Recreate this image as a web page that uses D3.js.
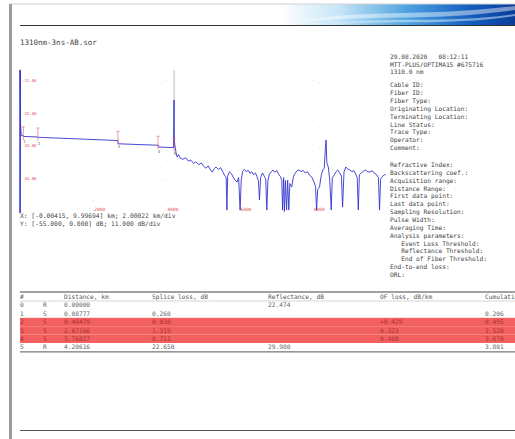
<!DOCTYPE html>
<html>
<head>
<meta charset="utf-8">
<script src="https://cdn.jsdelivr.net/npm/d3@7"></script>
<style>
  body { margin: 0; background: #fff; }
  svg { display: block; }
  text { font-family: "DejaVu Sans Mono", monospace; }
</style>
</head>
<body>
<svg id="page"></svg>
<script>
const W = 515, H = 439

// trace (km, dB)
const traceKm = [-0.004, 0.0, 0.01, 0.03, 0.088, 0.09, 0.485, 0.49, 1.5, 2.67, 2.68, 3.77, 3.78, 4.19, 4.20, 4.205, 4.21,
  4.235, 4.26, 4.29, 4.33, 4.37, 4.45, 4.52, 4.60, 4.66, 4.74, 4.80, 4.88, 4.95, 5.02, 5.08, 5.14, 5.20, 5.25, 5.30, 5.35,
  5.42, 5.48, 5.53, 5.58, 5.63, 5.65, 5.67, 5.72, 5.77, 5.82, 5.87, 5.93, 5.97, 6.01, 6.04, 6.08, 6.13, 6.18, 6.23, 6.28,
  6.33, 6.38, 6.43, 6.47, 6.51, 6.54, 6.57, 6.62, 6.67, 6.71, 6.74, 6.77, 6.81, 6.86, 6.91, 6.96, 7.01, 7.06, 7.11, 7.15,
  7.17, 7.20, 7.22, 7.25, 7.28, 7.31, 7.34, 7.37, 7.42, 7.47, 7.52, 7.57, 7.62, 7.68, 7.73, 7.79, 7.85, 7.91, 7.97, 8.03,
  8.07, 8.10, 8.13, 8.18, 8.23, 8.27, 8.31, 8.34, 8.36, 8.38, 8.42, 8.46, 8.50, 8.53, 8.58, 8.63, 8.68, 8.72, 8.78, 8.81,
  8.85, 8.90, 8.95, 9.01, 9.07, 9.12, 9.17, 9.21, 9.24, 9.27, 9.32, 9.38, 9.44, 9.50, 9.56, 9.62, 9.68, 9.74, 9.79, 9.82,
  9.85, 9.90, 9.95, 9.99]
const traceDb = [-55, -6.4, -25, -28.6, -28.8, -29.0, -29.2, -29.3, -29.8, -30.4, -31.5, -32.0, -32.6, -32.8, -24, -16.6, -30,
  -32.6, -34.5, -36.0, -35.2, -36.3, -36.8, -36.2, -37.4, -37.0, -38.2, -37.6, -38.6, -38.0, -39.2, -39.8, -39.0, -40.4, -41.1, -40.0, -39.4,
  -40.2, -39.6, -40.8, -42.1, -43.0, -54.0, -42.5, -41.0, -41.6, -42.8, -43.8, -44.5, -43.0, -54.0, -44.0, -40.8, -40.2, -41.0, -40.5, -41.5,
  -41.0, -42.0, -41.4, -42.6, -44.0, -50.6, -43.0, -41.4, -42.5, -43.5, -54.0, -44.0, -41.8, -41.0, -40.4, -41.2, -40.6, -41.8, -42.6, -44.0,
  -54.0, -43.0, -54.5, -44.0, -54.0, -43.8, -54.0, -45.0, -46.2, -42.5, -41.4, -40.6, -40.4, -41.0, -40.5, -41.4, -41.0, -42.2, -42.8, -44.5,
  -46.0, -54.0, -47.0, -46.2, -42.0, -40.4, -39.8, -33.0, -30.2, -38.0, -39.4, -43.8, -54.0, -43.0, -42.1, -41.0, -40.4, -41.2, -42.5, -53.0,
  -41.0, -39.4, -40.0, -40.4, -41.0, -40.6, -41.8, -43.0, -54.0, -42.0, -41.4, -40.8, -40.4, -41.0, -41.1, -40.6, -41.5, -42.0, -43.0, -54.0,
  -43.5, -42.6, -42.0, -42.1]

// events
const eventNo = ["1", "2", "3", "4", "5"]
const eventKm = [0.08777, 0.48479, 2.67166, 3.76827, 4.20616]
const eventDb = [-28.8, -29.2, -30.4, -32.0, -32.8]

// cursors A / B
const cursorKm = [0, 4.20616]
const cursorTopDb = -6.5

const xTicks = [2, 4, 6, 8]
const xTickLabels = ["2000", "4000", "6000", "8000"]
const yTicks = [-11, -22, -33, -44]
const yTickLabels = ["-11.00", "-22.00", "-33.00", "-44.00"]

const fileName = "1310nm-3ns-AB.sor"
const rangeX = "X: [-0.00415, 9.99694] km; 2.00022 km/div"
const rangeY = "Y: [-55.000, 0.000] dB; 11.000 dB/div"

const infoTop = ["29.08.2020   08:12:11", "MTT-PLUS/OPTIMA15 #675716", "1310.0 nm"]
const infoMid = ["Cable ID:", "Fiber ID:", "Fiber Type:", "Originating Location:", "Terminating Location:",
  "Line Status:", "Trace Type:", "Operator:", "Comment:"]
const infoLow = ["Refractive Index:", "Backscattering coef.:", "Acquisition range:", "Distance Range:",
  "First data point:", "Last data point:", "Sampling Resolution:", "Pulse Width:", "Averaging Time:",
  "Analysis parameters:", "   Event Loss Threshold:", "   Reflectance Threshold:", "   End of Fiber Threshold:",
  "End-to-end loss:", "ORL:"]

// event table
const tableHeaders = ["#", "", "Distance, km", "Splice loss, dB", "Reflectance, dB", "OF loss, dB/km", "Cumulative loss, dB"]
const colIdx = ["0", "1", "2", "3", "4", "5"]
const colType = ["R", "S", "S", "S", "S", "R"]
const colDist = ["0.00000", "0.08777", "0.48479", "2.67166", "3.76827", "4.20616"]
const colSplice = ["", "0.260", "0.038", "1.319", "0.711", "22.650"]
const colRefl = ["22.474", "", "", "", "", "29.980"]
const colOf = ["", "", "+0.429", "0.323", "0.400", ""]
const colCum = ["", "0.206", "0.495", "2.520", "3.670", "3.801"]
const highlighted = [2, 3, 4]

const svg = d3.select("#page").attr("width", W).attr("height", H)

// ---- page frame ----
const defs = svg.append("defs")
const grad = defs.append("linearGradient").attr("id", "banner")
grad.append("stop").attr("offset", "0%").attr("stop-color", "#ffffff")
grad.append("stop").attr("offset", "25%").attr("stop-color", "#c6e6f6")
grad.append("stop").attr("offset", "55%").attr("stop-color", "#4aa0e0")
grad.append("stop").attr("offset", "80%").attr("stop-color", "#1560c0")
grad.append("stop").attr("offset", "100%").attr("stop-color", "#0a3c98")

svg.append("rect").attr("x", 280).attr("y", 4).attr("width", 235).attr("height", 21).attr("fill", "url(#banner)")
svg.append("path").attr("d", "M300,22 C360,8 420,18 515,6 L515,10 C430,22 370,14 300,22 Z").attr("fill", "#ffffff").attr("opacity", 0.45)
svg.append("path").attr("d", "M330,24 C390,16 450,24 515,14 L515,16 C450,26 390,20 330,24 Z").attr("fill", "#e0f4ff").attr("opacity", 0.5)

svg.append("line").attr("x1", 10).attr("x2", W).attr("y1", 4).attr("y2", 4).attr("stroke", "#d0d0d0")
svg.append("rect").attr("x", 9).attr("y", 4).attr("width", 3).attr("height", H - 4).attr("fill", "#9a9a9a")
svg.append("line").attr("x1", 20).attr("x2", W).attr("y1", 25.5).attr("y2", 25.5).attr("stroke", "#333").attr("stroke-width", 1)
svg.append("line").attr("x1", 20).attr("x2", W).attr("y1", 430.5).attr("y2", 430.5).attr("stroke", "#555").attr("stroke-width", 1.2)

svg.append("text").attr("x", 20).attr("y", 45).attr("font-size", "7.5px").attr("fill", "#444").text(fileName)

// ---- trace plot ----
const x = d3.scaleLinear().domain([-0.00415, 9.99694]).range([20, 386])
const y = d3.scaleLinear().domain([-55, 0]).range([213, 51])

const grid = svg.append("g")
grid.selectAll(".vg").data(xTicks).enter().append("line")
  .attr("x1", d => x(d)).attr("x2", d => x(d)).attr("y1", 70).attr("y2", 213)
  .attr("stroke", "#e4e4e4").attr("stroke-dasharray", "1,9")
grid.selectAll(".hg").data(yTicks).enter().append("line")
  .attr("x1", 20).attr("x2", 386).attr("y1", d => y(d)).attr("y2", d => y(d))
  .attr("stroke", "#ececec").attr("stroke-dasharray", "1,12")

svg.selectAll(".xl").data(xTicks).enter().append("text")
  .attr("x", d => x(d) + 1).attr("y", 211)
  .attr("font-size", "4.5px").attr("fill", "#e05050")
  .text((d, i) => xTickLabels[i])
svg.selectAll(".yl").data(yTicks).enter().append("text")
  .attr("x", 22).attr("y", d => y(d) - 1)
  .attr("font-size", "4px").attr("fill", "#e05050")
  .text((d, i) => yTickLabels[i])

// cursors
svg.append("line").attr("x1", x(cursorKm[0])).attr("x2", x(cursorKm[0]))
  .attr("y1", y(cursorTopDb)).attr("y2", 213).attr("stroke", "#5a5ad6").attr("stroke-width", 1.6)
svg.append("line").attr("x1", x(cursorKm[1])).attr("x2", x(cursorKm[1]))
  .attr("y1", y(cursorTopDb)).attr("y2", y(eventDb[4])).attr("stroke", "#a8a8c8").attr("stroke-width", 0.8)

const pts = traceKm.map((k, i) => [k, traceDb[i]])
const line = d3.line().x(d => x(d[0])).y(d => y(d[1]))
svg.append("path").datum(pts).attr("d", line)
  .attr("fill", "none").attr("stroke", "#3434d0").attr("stroke-width", 0.9)

// event markers
const ev = svg.selectAll(".ev").data(eventKm).enter().append("g")
ev.append("line")
  .attr("x1", d => x(d)).attr("x2", d => x(d))
  .attr("y1", (d, i) => y(eventDb[i]) - 9).attr("y2", (d, i) => y(eventDb[i]) + 4)
  .attr("stroke", "#dc5a5a").attr("stroke-width", 0.6)
ev.append("line")
  .attr("x1", d => x(d) - 1.5).attr("x2", d => x(d) + 1.5)
  .attr("y1", (d, i) => y(eventDb[i]) - 9).attr("y2", (d, i) => y(eventDb[i]) - 9)
  .attr("stroke", "#dc5a5a").attr("stroke-width", 0.6)
ev.append("text")
  .attr("x", d => x(d) + 1).attr("y", (d, i) => y(eventDb[i]) + 7.5)
  .attr("text-anchor", "middle").attr("font-size", "4px").attr("fill", "#666")
  .text((d, i) => eventNo[i])

svg.append("text").attr("x", 20).attr("y", 218).attr("font-size", "6.3px").attr("fill", "#444").text(rangeX)
svg.append("text").attr("x", 20).attr("y", 226).attr("font-size", "6.3px").attr("fill", "#444").text(rangeY)

// ---- info column ----
const info = svg.append("g").attr("font-size", "6.2px").attr("fill", "#444")
info.selectAll(".t").data(infoTop).enter().append("text")
  .attr("x", 390).attr("y", (d, i) => 59 + i * 7.7).attr("xml:space", "preserve").text(d => d)
info.selectAll(".m").data(infoMid).enter().append("text")
  .attr("x", 390).attr("y", (d, i) => 87 + i * 7.9).attr("xml:space", "preserve").text(d => d)
info.selectAll(".l").data(infoLow).enter().append("text")
  .attr("x", 390).attr("y", (d, i) => 167 + i * 7.85).attr("xml:space", "preserve").text(d => d)

// ---- event table ----
const colX = [20, 43, 64, 152, 268, 380, 485]
const rowY0 = 301, rowH = 8.4
const rows = colIdx.map((d, i) => [d, colType[i], colDist[i], colSplice[i], colRefl[i], colOf[i], colCum[i]])

svg.append("line").attr("x1", 20).attr("x2", W).attr("y1", 292).attr("y2", 292).attr("stroke", "#444").attr("stroke-width", 1)
svg.append("line").attr("x1", 20).attr("x2", W).attr("y1", rowY0).attr("y2", rowY0).attr("stroke", "#bbb").attr("stroke-width", 0.6)
svg.selectAll(".hl").data(highlighted).enter().append("rect")
  .attr("x", 20).attr("y", d => rowY0 + d * rowH).attr("width", W - 20).attr("height", rowH)
  .attr("fill", "#f26060")
svg.append("line").attr("x1", 20).attr("x2", W).attr("y1", rowY0 + 6 * rowH + 0.5).attr("y2", rowY0 + 6 * rowH + 0.5)
  .attr("stroke", "#555").attr("stroke-width", 1)

svg.selectAll(".th").data(tableHeaders).enter().append("text")
  .attr("x", (d, i) => colX[i]).attr("y", 299).attr("font-size", "6.2px").attr("fill", "#555")
  .text(d => d)

const tr = svg.selectAll(".tr").data(rows).enter().append("g")
tr.selectAll("text").data((r, ri) => r.map(v => ({ v: v, hi: highlighted.includes(ri) })))
  .enter().append("text")
  .attr("x", (d, i) => colX[i])
  .attr("font-size", "6.2px")
  .attr("fill", d => d.hi ? "#a83232" : "#666")
  .text(d => d.v)
tr.attr("transform", (d, i) => "translate(0," + (rowY0 + i * rowH + 6.3) + ")")
</script>
</body>
</html>
